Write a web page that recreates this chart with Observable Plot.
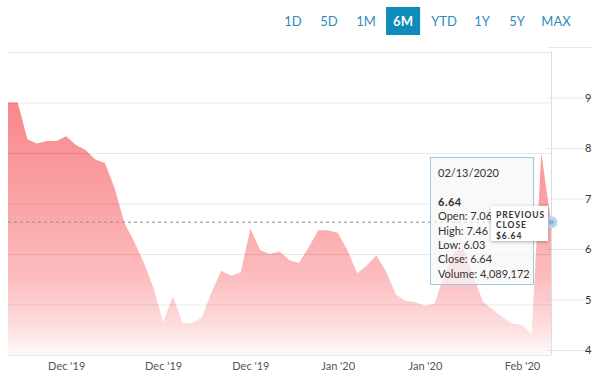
<!DOCTYPE html>
<html><head><meta charset="utf-8">
<script src="https://cdn.jsdelivr.net/npm/d3@7"></script>
<script src="https://cdn.jsdelivr.net/npm/@observablehq/plot@0.6"></script>
<style>
body{margin:0;background:#fff;font-family:Lato,"Noto Sans",sans-serif}
#wrap{position:relative;width:602px;height:388px;overflow:hidden}
#wrap svg{position:absolute;left:0;top:0}
.btn{position:absolute;top:7px;height:28px;line-height:28px;font-size:13px;color:#2e8cc0;text-align:center;transform:translateX(-50%);padding:0 7px}
.btn.sel{background:#0e8bb9;color:#fff;font-weight:bold}
#tip{position:absolute;left:430px;top:157px;width:104px;height:128px;border:1px solid #a3c6e2;background:rgba(247,247,247,0.72);box-sizing:border-box;padding:8px 0 0 7px;font-size:11px;line-height:14.4px;color:#333}
#tip b{font-weight:bold;letter-spacing:0.5px}
#prev{position:absolute;left:491px;top:206px;width:57px;height:35px;background:#fff;box-shadow:0 1px 3px rgba(0,0,0,0.3);box-sizing:border-box;padding:4px 0 0 5px;font-size:8.5px;line-height:10.4px;font-weight:bold;letter-spacing:0.9px;color:#333}
</style></head><body><div id="wrap"></div>
<script>
// daily closing prices (oldest to newest)
const closes = [9.00, 9.00, 8.27, 8.19, 8.24, 8.24, 8.33, 8.16, 8.06, 7.87,
  7.80, 7.30, 6.62, 6.25, 5.83, 5.33, 4.65, 5.16, 4.63, 4.63,
  4.75, 5.25, 5.67, 5.57, 5.64, 6.50, 6.08, 6.00, 6.05, 5.88,
  5.82, 6.13, 6.47, 6.47, 6.42, 6.08, 5.62, 5.77, 5.97, 5.65,
  5.20, 5.07, 5.05, 4.97, 5.02, 5.60, 6.05, 6.10, 5.55, 5.05,
  4.90, 4.75, 4.62, 4.60, 4.41, 7.99, 6.64];
const xTickIndex = [6, 16, 25, 34, 43, 53];
const xTickLabels = ["Dec '19", "Dec '19", "Dec '19", "Jan '20", "Jan '20", "Feb '20"];
const yTicks = [4, 5, 6, 7, 8, 9, 10];
const yTickLabels = ["4", "5", "6", "7", "8", "9", ""];
const previousClose = 6.64;
const ranges = ["1D", "5D", "1M", "6M", "YTD", "1Y", "5Y", "MAX"];
const rangeCenters = [293, 329, 366, 403, 444, 482, 517, 556];
const selectedRange = "6M";
const tipDate = "02/13/2020";
const tipLabels = ["Open", "High", "Low", "Close", "Volume"];
const tipValues = ["7.06", "7.46", "6.03", "6.64", "4,089,172"];
const tipClose = "6.64";

const data = closes.map((v, i) => ({i, v}));
const last = closes.length - 1;

const plot = Plot.plot({
  width: 602, height: 388,
  marginLeft: 8, marginRight: 51, marginTop: 52, marginBottom: 33,
  style: {fontFamily: "Lato, sans-serif", fontSize: "11px", background: "transparent"},
  x: {type: "linear", domain: [0, last]},
  y: {domain: [4, 10]},
  marks: [
    Plot.areaY(data, {x: "i", y1: 4, y2: "v", fill: "url(#pinkGrad)", curve: "linear"}),
    Plot.gridY(yTicks, {stroke: "#000", strokeOpacity: 0.09}),
    Plot.axisY(yTicks, {anchor: "right", tickSize: 45, stroke: "#000", strokeOpacity: 0.09, tickPadding: 0,
      textAnchor: "end", dx: -5, dy: -5, fill: "#333", label: null,
      tickFormat: d => yTickLabels[yTicks.indexOf(d)]}),
    Plot.ruleX([last], {stroke: "#ddd", y1: 4, y2: 10}),
    Plot.ruleY([previousClose], {stroke: "#8a8a8a", strokeDasharray: "3,3"}),
    Plot.axisX(xTickIndex, {tickSize: 0, tickPadding: 7, fill: "#555", label: null,
      tickFormat: d => xTickLabels[xTickIndex.indexOf(d)]}),
    Plot.dot([{i: last, v: closes[last]}], {x: "i", y: "v", r: 6, fill: "#bcd6ec", stroke: "none"}),
    Plot.dot([{i: last, v: closes[last]}], {x: "i", y: "v", r: 2.5, fill: "#8ab6dc", stroke: "none"})
  ]
});

const ys = plot.scale("y");
const ns = "http://www.w3.org/2000/svg";
const defs = document.createElementNS(ns, "defs");
defs.innerHTML = `<linearGradient id="pinkGrad" gradientUnits="userSpaceOnUse" x1="0" x2="0" y1="${ys.apply(10)}" y2="${ys.apply(4)}">
<stop offset="0" stop-color="#f7797e"/>
<stop offset="0.2" stop-color="#f88a8e"/>
<stop offset="0.51" stop-color="#fba4a7"/>
<stop offset="0.74" stop-color="#fcbcbe"/>
<stop offset="0.9" stop-color="#fddcdd"/>
<stop offset="1" stop-color="#fffafa"/>
</linearGradient>`;
plot.insertBefore(defs, plot.firstChild);

const wrap = document.getElementById("wrap");
wrap.appendChild(plot);

ranges.forEach((r, k) => {
  const b = document.createElement("div");
  b.className = "btn" + (r === selectedRange ? " sel" : "");
  b.style.left = rangeCenters[k] + "px";
  b.textContent = r;
  wrap.appendChild(b);
});

const tip = document.createElement("div");
tip.id = "tip";
tip.innerHTML = `${tipDate}<br><br><b>${tipClose}</b><br>` +
  tipLabels.map((l, k) => `${l}: ${tipValues[k]}`).join("<br>");
wrap.appendChild(tip);

const prev = document.createElement("div");
prev.id = "prev";
prev.innerHTML = `PREVIOUS<br>CLOSE<br>$${previousClose.toFixed(2)}`;
wrap.appendChild(prev);
</script>
</body></html>
